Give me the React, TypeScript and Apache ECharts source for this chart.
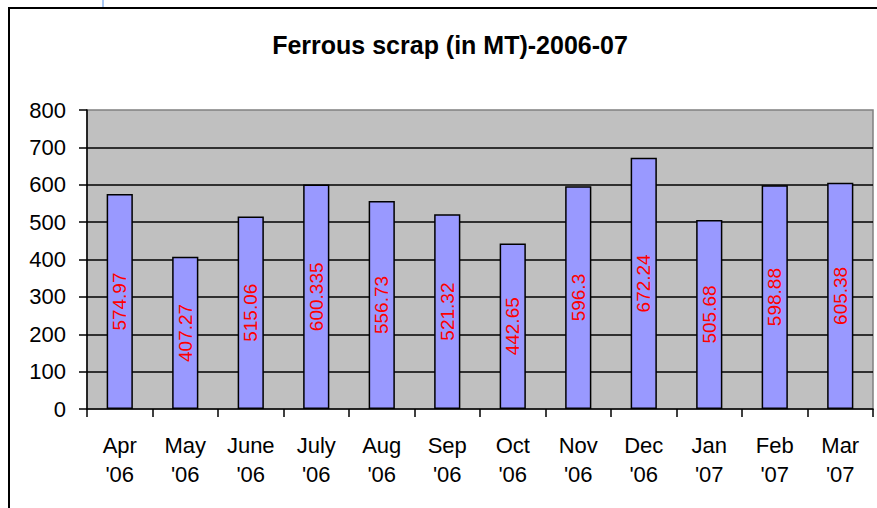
import React, { useEffect, useRef } from "react";
import * as echarts from "echarts";

const categories = [
  "Apr\n'06", "May\n'06", "June\n'06", "July\n'06", "Aug\n'06", "Sep\n'06",
  "Oct\n'06", "Nov\n'06", "Dec\n'06", "Jan\n'07", "Feb\n'07", "Mar\n'07",
];
const scrapValues = [574.97, 407.27, 515.06, 600.335, 556.73, 521.32, 442.65, 596.3, 672.24, 505.68, 598.88, 605.38];
const titleText = "Ferrous scrap (in MT)-2006-07";
const yMin = 0;
const yMax = 800;
const yInterval = 100;

const FONT = "'Liberation Sans', Arial, sans-serif";

export default function App() {
  const ref = useRef<HTMLDivElement>(null);
  useEffect(() => {
    if (!ref.current) return;
    const chart = echarts.init(ref.current, undefined, { renderer: "svg" });
    chart.setOption({
      animation: false,
      backgroundColor: "#FFFFFF",
      title: {
        text: titleText,
        left: 445,
        textAlign: "center",
        top: 27,
        textStyle: { fontFamily: FONT, fontSize: 25, fontWeight: "bold", color: "#000" },
      },
      graphic: [
        {
          type: "rect",
          shape: { x: 9, y: 8, width: 900, height: 540 },
          style: { fill: "none", stroke: "#000", lineWidth: 2 },
          silent: true,
          z: 100,
        },
        {
          type: "line",
          shape: { x1: 103, y1: 0, x2: 103, y2: 7 },
          style: { stroke: "#A9C7F2", lineWidth: 2 },
          silent: true,
        },
      ],
      grid: {
        left: 87,
        right: 4,
        top: 110,
        bottom: 99,
        show: true,
        backgroundColor: "#C0C0C0",
        borderColor: "#808080",
        borderWidth: 1.5,
      },
      xAxis: {
        type: "category",
        data: categories,
        axisLine: { show: true, lineStyle: { color: "#000", width: 1.5 } },
        axisTick: { show: true, length: 8, lineStyle: { color: "#000", width: 1.5 } },
        axisLabel: {
          interval: 0,
          margin: 22,
          fontFamily: FONT,
          fontSize: 22,
          lineHeight: 29,
          color: "#000",
        },
        splitLine: { show: false },
      },
      yAxis: {
        type: "value",
        min: yMin,
        max: yMax,
        interval: yInterval,
        axisLine: { show: true, lineStyle: { color: "#000", width: 1.5 } },
        axisTick: { show: true, length: 8, lineStyle: { color: "#000", width: 1.5 } },
        axisLabel: { margin: 21, fontFamily: FONT, fontSize: 22, color: "#000" },
        splitLine: {
          show: true,
          showMinLine: false,
          showMaxLine: false,
          lineStyle: { color: "#000", width: 1.5 },
        },
      },
      series: [
        {
          type: "bar",
          data: scrapValues,
          barWidth: "40%",
          itemStyle: { color: "#9999FF", borderColor: "#000", borderWidth: 1.5 },
          label: {
            show: true,
            position: "inside",
            rotate: 90,
            color: "#FF0000",
            fontFamily: FONT,
            fontSize: 19,
          },
        },
      ],
    });
    return () => chart.dispose();
  }, []);
  return (
    <div
      ref={ref}
      style={{ position: "fixed", left: 0, top: 0, width: 877, height: 508 }}
    />
  );
}
